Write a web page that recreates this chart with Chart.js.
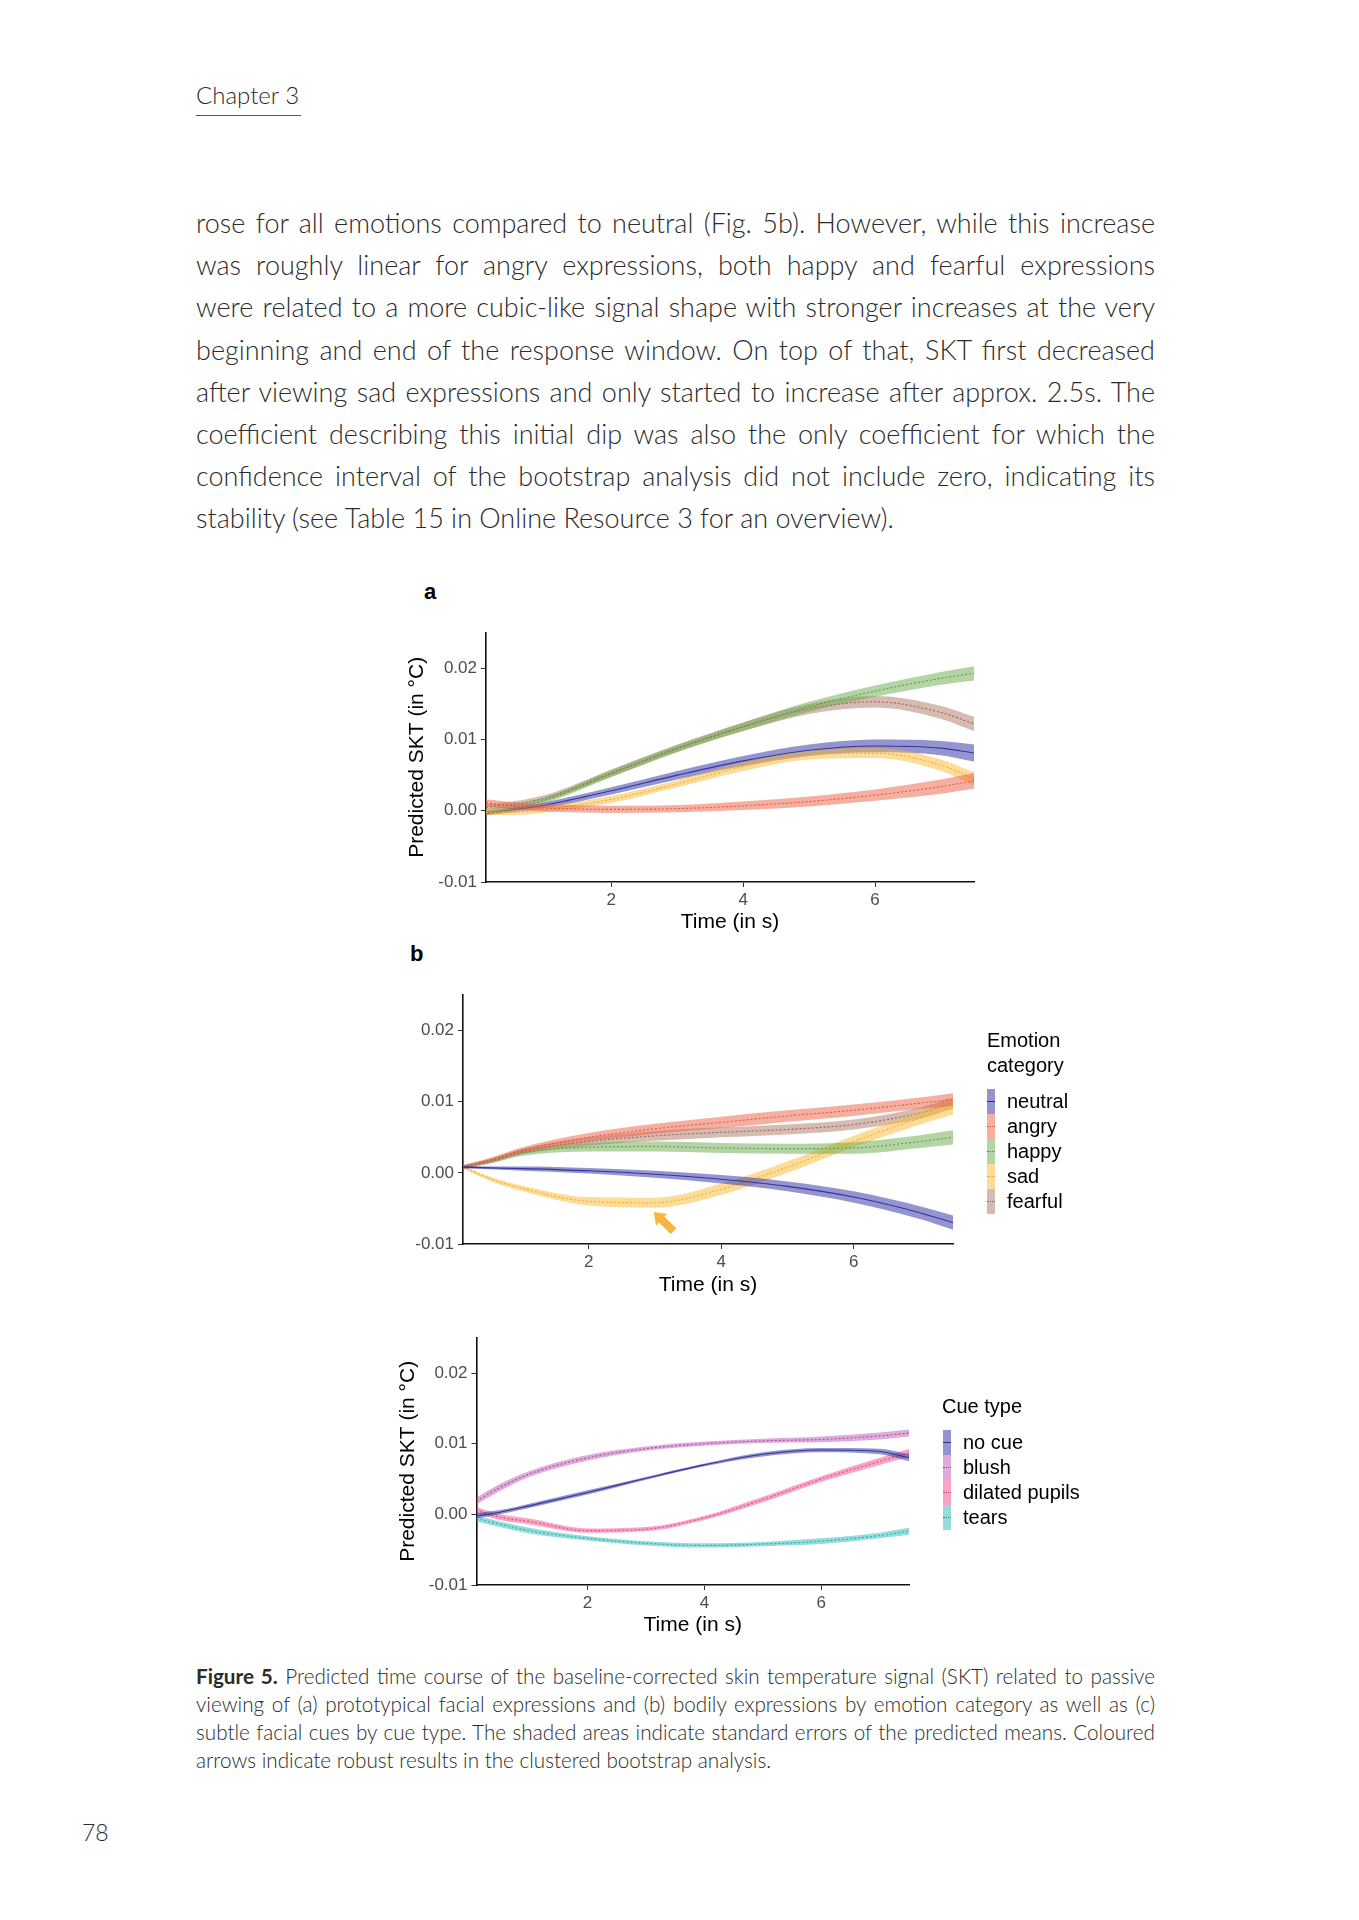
<!DOCTYPE html>
<html>
<head>
<meta charset="utf-8">
<script src="https://cdn.jsdelivr.net/npm/chart.js@4.4.1/dist/chart.umd.min.js"></script>
<style>
    body { margin: 0; background: #fff; }
    #page { position: relative; width: 1359px; height: 1920px; overflow: hidden; font-family: Lato, "Open Sans", sans-serif; color: #2b2b2b; }
    .abs { position: absolute; }
    .chapter { left: 196px; top: 80px; font-size: 24px; font-weight: 300; line-height: 30px; }
    .chapterRule { left: 196px; top: 115px; width: 105px; height: 1px; background: #555; }
    .body { left: 196px; top: 202px; width: 959px; font-size: 27px; font-weight: 300; line-height: 42.2px; }
    .body div, .caption div { white-space: nowrap; text-align: justify; text-align-last: justify; }
    .body div.last, .caption div.last { text-align-last: left; }
    .caption { left: 196px; top: 1662px; width: 959px; font-size: 20.7px; font-weight: 300; line-height: 28px; }
    .caption b { font-weight: 700; }
    .pageNo { left: 82px; top: 1818px; font-size: 23px; font-weight: 300; }
    .panel { font-family: "Liberation Sans", Arial, sans-serif; font-weight: bold; font-size: 22px; color: #000; }
    canvas { position: absolute; }
    .legTitle { font-family: "Liberation Sans", Arial, sans-serif; font-size: 20px; line-height: 24.5px; color: #000; }
    .legItem { position: absolute; height: 25px; }
    .legKey { position: absolute; left: 0; top: 0; width: 8px; height: 25px; }
    .legLine { position: absolute; left: 0; top: 12px; width: 8px; height: 0; }
    .legText { position: absolute; top: 0; line-height: 25px; font-family: "Liberation Sans", Arial, sans-serif; font-size: 20px; color: #000; white-space: nowrap; }
</style>
</head>
<body>
<div id="page">
    <div class="abs chapter">Chapter 3</div>
    <div class="abs chapterRule"></div>

    <div class="abs body">
        <div>rose for all emotions compared to neutral (Fig. 5b). However, while this increase</div>
        <div>was roughly linear for angry expressions, both happy and fearful expressions</div>
        <div>were related to a more cubic-like signal shape with stronger increases at the very</div>
        <div>beginning and end of the response window. On top of that, SKT first decreased</div>
        <div>after viewing sad expressions and only started to increase after approx. 2.5s. The</div>
        <div>coefficient describing this initial dip was also the only coefficient for which the</div>
        <div>confidence interval of the bootstrap analysis did not include zero, indicating its</div>
        <div class="last">stability (see Table 15 in Online Resource 3 for an overview).</div>
    </div>

    <div class="abs panel" style="left:424px; top:579px;">a</div>
    <div class="abs panel" style="left:410px; top:941px;">b</div>

    <canvas id="chartA" width="620" height="335" style="left:380px; top:610px;"></canvas>
    <canvas id="chartB" width="620" height="335" style="left:380px; top:975px;"></canvas>
    <canvas id="chartC" width="620" height="335" style="left:380px; top:1315px;"></canvas>

    <div class="abs legTitle" style="left:987px; top:1028px;">Emotion<br>category</div>
    <div class="abs" id="legendB" style="left:987px; top:1089px;"></div>
    <div class="abs legTitle" style="left:942px; top:1394px;">Cue type</div>
    <div class="abs" id="legendC" style="left:943px; top:1430px;"></div>

    <div class="abs caption">
        <div><b>Figure 5.</b> Predicted time course of the baseline-corrected skin temperature signal (SKT) related to passive</div>
        <div>viewing of (a) prototypical facial expressions and (b) bodily expressions by emotion category as well as (c)</div>
        <div>subtle facial cues by cue type. The shaded areas indicate standard errors of the predicted means. Coloured</div>
        <div class="last">arrows indicate robust results in the clustered bootstrap analysis.</div>
    </div>

    <div class="abs pageNo">78</div>
</div>

<script>
// time grid (s) shared by all panels
var times = [0.1, 0.5, 1, 2, 3, 4, 5, 6, 7, 7.5];
var xTicks = [2, 4, 6];
var yTicks = [-0.01, 0, 0.01, 0.02];

// panel a - facial expressions
var aNeutral = [-0.0003, 0.0001, 0.0008, 0.0028, 0.0050, 0.0070, 0.0085, 0.0091, 0.0088, 0.0081];
var aNeutralSe = [0.0003, 0.0003, 0.0004, 0.0005, 0.0006, 0.0007, 0.0008, 0.0009, 0.0010, 0.0012];
var aAngry = [0.0011, 0.0007, 0.0004, 0.0002, 0.0003, 0.0007, 0.0013, 0.0022, 0.0034, 0.0042];
var aAngrySe = [0.0005, 0.0005, 0.0005, 0.0005, 0.0005, 0.0006, 0.0007, 0.0008, 0.0010, 0.0011];
var aHappy = [-0.0002, 0.0004, 0.0015, 0.0052, 0.0087, 0.0118, 0.0146, 0.0168, 0.0186, 0.0193];
var aHappySe = [0.0004, 0.0004, 0.0004, 0.0005, 0.0005, 0.0006, 0.0007, 0.0008, 0.0009, 0.0010];
var aSad = [-0.0002, -0.0002, 0.0002, 0.0016, 0.0038, 0.0062, 0.0078, 0.0081, 0.0064, 0.0045];
var aSadSe = [0.0004, 0.0004, 0.0004, 0.0005, 0.0005, 0.0006, 0.0006, 0.0007, 0.0008, 0.0009];
var aFearful = [0.0005, 0.0009, 0.0018, 0.0053, 0.0088, 0.0118, 0.0143, 0.0153, 0.0138, 0.0122];
var aFearfulSe = [0.0004, 0.0004, 0.0004, 0.0005, 0.0005, 0.0006, 0.0007, 0.0008, 0.0009, 0.0010];

// panel b - bodily expressions
var bNeutral = [0.0008, 0.0007, 0.0006, 0.0003, -0.0002, -0.0009, -0.0019, -0.0034, -0.0056, -0.0070];
var bNeutralSe = [0.0002, 0.0002, 0.0003, 0.0004, 0.0005, 0.0006, 0.0007, 0.0008, 0.0009, 0.0010];
var bAngry = [0.0009, 0.0018, 0.0032, 0.0050, 0.0062, 0.0071, 0.0080, 0.0088, 0.0098, 0.0103];
var bAngrySe = [0.0002, 0.0003, 0.0004, 0.0006, 0.0007, 0.0008, 0.0008, 0.0008, 0.0008, 0.0009];
var bHappy = [0.0009, 0.0016, 0.0028, 0.0036, 0.0037, 0.0035, 0.0034, 0.0035, 0.0044, 0.0050];
var bHappySe = [0.0002, 0.0003, 0.0004, 0.0006, 0.0007, 0.0007, 0.0007, 0.0008, 0.0009, 0.0010];
var bSad = [0.0008, -0.0008, -0.0022, -0.0040, -0.0042, -0.0023, 0.0008, 0.0044, 0.0077, 0.0092];
var bSadSe = [0.0002, 0.0003, 0.0004, 0.0006, 0.0007, 0.0008, 0.0008, 0.0008, 0.0009, 0.0010];
var bFearful = [0.0007, 0.0016, 0.0030, 0.0044, 0.0052, 0.0057, 0.0061, 0.0068, 0.0084, 0.0098];
var bFearfulSe = [0.0002, 0.0003, 0.0004, 0.0006, 0.0007, 0.0007, 0.0007, 0.0007, 0.0008, 0.0008];
// arrow marking the robust sad dip: tail then tip, in data units
var bArrow = [[3.28, -0.0082], [2.98, -0.0055]];

// panel c - subtle facial cues
var cNoCue = [-0.0002, 0.0003, 0.0012, 0.0031, 0.0051, 0.0070, 0.0085, 0.0091, 0.0089, 0.0080];
var cNoCueSe = [0.0004, 0.0003, 0.0003, 0.0003, 0.0002, 0.0002, 0.0003, 0.0003, 0.0004, 0.0005];
var cBlush = [0.0019, 0.0038, 0.0057, 0.0080, 0.0093, 0.0100, 0.0104, 0.0106, 0.0111, 0.0115];
var cBlushSe = [0.0005, 0.0005, 0.0004, 0.0004, 0.0003, 0.0003, 0.0003, 0.0004, 0.0005, 0.0005];
var cDilated = [0.0006, -0.0004, -0.0010, -0.0023, -0.0021, -0.0005, 0.0021, 0.0050, 0.0075, 0.0087];
var cDilatedSe = [0.0004, 0.0004, 0.0004, 0.0003, 0.0003, 0.0003, 0.0004, 0.0004, 0.0005, 0.0006];
var cTears = [-0.0006, -0.0014, -0.0023, -0.0034, -0.0041, -0.0044, -0.0042, -0.0038, -0.0030, -0.0024];
var cTearsSe = [0.0004, 0.0004, 0.0004, 0.0003, 0.0003, 0.0003, 0.0003, 0.0004, 0.0004, 0.0005];

var emotionLabels = ['neutral', 'angry', 'happy', 'sad', 'fearful'];
var cueLabels = ['no cue', 'blush', 'dilated pupils', 'tears'];

var colNeutral = {fill: 'rgba(60,60,170,0.55)', line: '#2b2b8c', dash: []};
var colAngry = {fill: 'rgba(236,95,65,0.5)', line: 'rgb(214,84,58)', dash: [2, 2]};
var colHappy = {fill: 'rgba(105,170,75,0.5)', line: 'rgb(88,138,60)', dash: [2, 2]};
var colSad = {fill: 'rgba(250,185,50,0.5)', line: 'rgb(232,165,40)', dash: [2, 2]};
var colFearful = {fill: 'rgba(165,105,85,0.45)', line: 'rgb(150,92,76)', dash: [2, 2]};
var colBlush = {fill: 'rgba(190,90,180,0.5)', line: 'rgb(160,60,150)', dash: [2, 2]};
var colDilated = {fill: 'rgba(240,90,150,0.55)', line: 'rgb(210,60,120)', dash: [2, 2]};
var colTears = {fill: 'rgba(60,190,190,0.55)', line: 'rgb(40,150,150)', dash: [2, 2]};

var axisFont = "'Liberation Sans', Arial, sans-serif";

function bandSets(label, mean, se, col) {
    var lo = times.map(function(t, i) { return {x: t, y: mean[i] - se[i]}; });
    var hi = times.map(function(t, i) { return {x: t, y: mean[i] + se[i]}; });
    var mid = times.map(function(t, i) { return {x: t, y: mean[i]}; });
    var common = {pointRadius: 0, cubicInterpolationMode: 'monotone'};
    return [
        Object.assign({label: label + ' lower', data: lo, borderWidth: 0, fill: false}, common),
        Object.assign({label: label + ' upper', data: hi, borderWidth: 0, fill: '-1', backgroundColor: col.fill}, common),
        Object.assign({label: label, data: mid, borderWidth: 1.1, borderColor: col.line, borderDash: col.dash, fill: false}, common)
    ];
}

function makeChart(id, datasets, o) {
    return new Chart(document.getElementById(id), {
        type: 'line',
        data: {datasets: datasets},
        plugins: o.plugins || [],
        options: {
            responsive: false,
            animation: false,
            layout: {padding: {left: 0, top: o.padTop, right: o.padRight, bottom: 0}},
            plugins: {legend: {display: false}, tooltip: {enabled: false}},
            scales: {
                x: {
                    type: 'linear', min: 0.1, max: 7.5,
                    afterBuildTicks: function(s) { s.ticks = xTicks.map(function(v) { return {value: v}; }); },
                    afterFit: function(s) { s.height = o.xHeight; },
                    grid: {drawOnChartArea: false, drawTicks: true, tickLength: 5, color: '#333', lineWidth: 1},
                    border: {display: true, color: '#111', width: 1.6},
                    ticks: {color: '#4d4d4d', padding: 3, font: {family: axisFont, size: 17}},
                    title: {display: true, text: 'Time (in s)', color: '#000', padding: {top: 0, bottom: o.xTitlePad}, font: {family: axisFont, size: 21}}
                },
                y: {
                    type: 'linear', min: -0.01, max: 0.025,
                    afterBuildTicks: function(s) { s.ticks = yTicks.map(function(v) { return {value: v}; }); },
                    afterFit: function(s) { s.width = o.yWidth; },
                    grid: {drawOnChartArea: false, drawTicks: true, tickLength: 5, color: '#333', lineWidth: 1},
                    border: {display: true, color: '#111', width: 1.6},
                    ticks: {color: '#4d4d4d', padding: 4, font: {family: axisFont, size: 17},
                        callback: function(v) { return v.toFixed(2); }},
                    title: {display: o.yTitle, text: 'Predicted SKT (in °C)', color: '#000', padding: {top: o.yTitlePad, bottom: 0}, font: {family: axisFont, size: 21}}
                }
            }
        }
    });
}

var arrowPlugin = {
    id: 'sadArrow',
    afterDatasetsDraw: function(chart) {
        var xs = chart.scales.x, ys = chart.scales.y, ctx = chart.ctx;
        var x0 = xs.getPixelForValue(bArrow[0][0]), y0 = ys.getPixelForValue(bArrow[0][1]);
        var x1 = xs.getPixelForValue(bArrow[1][0]), y1 = ys.getPixelForValue(bArrow[1][1]);
        var ang = Math.atan2(y1 - y0, x1 - x0);
        var len = Math.hypot(x1 - x0, y1 - y0);
        var head = 11, hw = 8, sw = 4;
        ctx.save();
        ctx.translate(x0, y0);
        ctx.rotate(ang);
        ctx.fillStyle = '#f9b53c';
        ctx.beginPath();
        ctx.moveTo(0, -sw);
        ctx.lineTo(len - head, -sw);
        ctx.lineTo(len - head, -hw);
        ctx.lineTo(len, 0);
        ctx.lineTo(len - head, hw);
        ctx.lineTo(len - head, sw);
        ctx.lineTo(0, sw);
        ctx.closePath();
        ctx.fill();
        ctx.restore();
    }
};

var setsA = [].concat(
    bandSets('angry', aAngry, aAngrySe, colAngry),
    bandSets('sad', aSad, aSadSe, colSad),
    bandSets('neutral', aNeutral, aNeutralSe, colNeutral),
    bandSets('happy', aHappy, aHappySe, colHappy),
    bandSets('fearful', aFearful, aFearfulSe, colFearful)
);
makeChart('chartA', setsA, {padTop: 22.7, padRight: 26, xHeight: 63, yWidth: 106, xTitlePad: 10, yTitle: true, yTitlePad: 25});

var setsB = [].concat(
    bandSets('neutral', bNeutral, bNeutralSe, colNeutral),
    bandSets('angry', bAngry, bAngrySe, colAngry),
    bandSets('happy', bHappy, bHappySe, colHappy),
    bandSets('sad', bSad, bSadSe, colSad),
    bandSets('fearful', bFearful, bFearfulSe, colFearful)
);
makeChart('chartB', setsB, {padTop: 20, padRight: 47, xHeight: 66, yWidth: 83, xTitlePad: 12, yTitle: false, yTitlePad: 0, plugins: [arrowPlugin]});

var setsC = [].concat(
    bandSets('no cue', cNoCue, cNoCueSe, colNeutral),
    bandSets('blush', cBlush, cBlushSe, colBlush),
    bandSets('dilated pupils', cDilated, cDilatedSe, colDilated),
    bandSets('tears', cTears, cTearsSe, colTears)
);
makeChart('chartC', setsC, {padTop: 22.7, padRight: 91, xHeight: 65, yWidth: 96.5, xTitlePad: 12, yTitle: true, yTitlePad: 16});

function buildLegend(id, labels, cols) {
    var box = document.getElementById(id);
    labels.forEach(function(lab, i) {
        var c = cols[i];
        var item = document.createElement('div');
        item.className = 'legItem';
        item.style.top = (i * 25) + 'px';
        var key = document.createElement('div');
        key.className = 'legKey';
        key.style.background = c.fill;
        var line = document.createElement('div');
        line.className = 'legLine';
        line.style.borderTop = '1px ' + (c.dash.length ? 'dotted ' : 'solid ') + c.line;
        key.appendChild(line);
        var txt = document.createElement('div');
        txt.className = 'legText';
        txt.style.left = '20px';
        txt.textContent = lab;
        item.appendChild(key);
        item.appendChild(txt);
        box.appendChild(item);
    });
}
buildLegend('legendB', emotionLabels, [colNeutral, colAngry, colHappy, colSad, colFearful]);
buildLegend('legendC', cueLabels, [colNeutral, colBlush, colDilated, colTears]);
</script>
</body>
</html>
